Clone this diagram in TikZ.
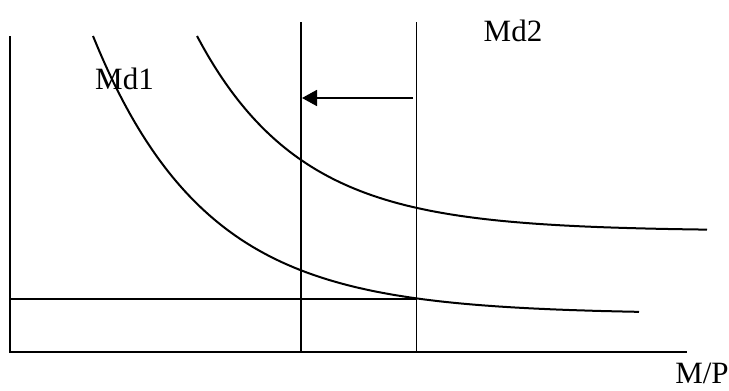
\documentclass[tikz,border=0pt]{standalone}
\usepackage{fontspec}
\setmainfont{Liberation Serif}
\usetikzlibrary{arrows.meta}
\tikzset{
  axisline/.style={draw=black,line width=2pt},
  guide/.style={draw=black,line width=1.7pt},
  curve/.style={draw=black,line width=2pt},
  shiftarr/.style={-{Triangle[length=15pt,width=16pt]},draw=black,line width=1.8pt},
  lbl/.style={font=\fontsize{31}{36}\selectfont,inner sep=0pt},
}

\begin{document}
\begin{tikzpicture}[x=1pt,y=-1pt]
    \useasboundingbox (0,0) rectangle (729,391);
    % --- axes
    \coordinate (ytop) at (10,36);
    \coordinate (orig) at (10,351.5);
    \coordinate (xend) at (687,351.5);
    \draw[axisline] (ytop) -- (orig) -- (xend);
    % --- money supply lines
    \coordinate (ms1top) at (301,22);
    \coordinate (ms1bot) at (301,351.5);
    \coordinate (ms2top) at (416.5,22);
    \coordinate (ms2bot) at (416.5,351.5);
    \draw[guide] (ms1top) -- (ms1bot);
    \draw[guide] (ms2top) -- (ms2bot);
    \coordinate (rate) at (10,299);
    \coordinate (eq) at (416.5,299);
    \draw[guide] (rate) -- (eq);
    % --- shift of supply
    \coordinate (from) at (413,98);
    \coordinate (to) at (302,98);
    \draw[shiftarr] (from) -- (to);
    % --- demand curves
    \draw[curve] plot[domain=93:639,samples=90,smooth]
      (\x,{314-278*exp(-0.0089*(\x-93))});
    \draw[curve] plot[domain=197:707,samples=90,smooth]
      (\x,{231-195*exp(-0.0097*(\x-197))});
    % --- labels
    \node[lbl] (md1) at (124.5,79) {Md1};
    \node[lbl] (md2) at (513,31) {Md2};
    \node[lbl] (mp) at (702,373) {M/P};
  \end{tikzpicture}
\end{document}
